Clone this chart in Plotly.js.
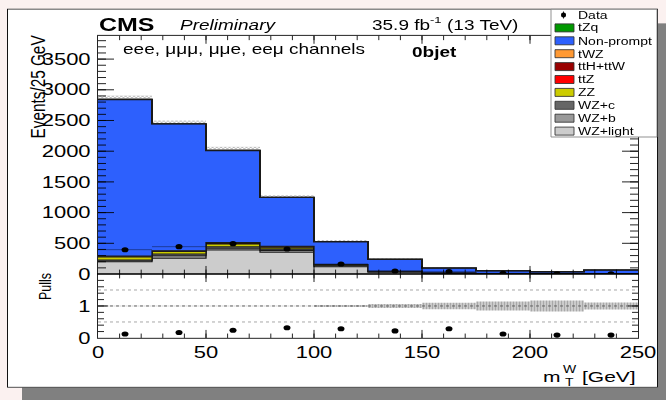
<!DOCTYPE html>
<html>
<head>
<meta charset="utf-8">
<script src="https://cdn.plot.ly/plotly-3.0.1.min.js"></script>
<style>
  html, body { margin: 0; padding: 0; width: 666px; height: 400px; overflow: hidden; background: #fbf1f0; }
  #wrap { position: absolute; left: 0; top: 0; width: 666px; height: 548px; transform: scaleY(0.729927); transform-origin: 0 0; }
  #shadow { position: absolute; left: 22px; top: 31.5px; width: 660px; height: 530px; background: #808080; }
  #frame { position: absolute; left: 7px; top: 12.3px; width: 649px; height: 516.5px; background: #ffffff; border: 1px solid #111; }
  #plot { position: absolute; left: 0; top: 0; width: 666px; height: 548px; }
</style>
</head>
<body>
<div id="wrap">
  <div id="shadow"></div>
  <div id="frame"></div>
  <div id="plot"></div>
</div>
<script>
// ---------------- data ----------------
const binEdges   = [0, 25, 50, 75, 100, 125, 150, 175, 200, 225, 250];
const binCenters = [12.5, 37.5, 62.5, 87.5, 112.5, 137.5, 162.5, 187.5, 212.5, 237.5];

const wzLight   = [200, 256, 390, 354, 119, 30, 12, 6, 4, 5];
const wzB       = [14, 40, 30, 30, 14, 5, 2, 1, 1, 1];
const wzC       = [14, 30, 25, 24, 10, 4, 2, 1, 1, 1];
const zz        = [50, 38, 44, 27, 6, 3, 2, 1, 1, 1];
const ttZ       = [8, 6, 12, 10, 4, 2, 1, 1, 0.5, 1];
const ttHttW    = [5, 5, 8, 6, 2, 1, 1, 0.5, 0.5, 0.5];
const tWZ       = [3, 3, 4, 3, 1, 0.5, 0, 0, 0, 0];
const nonPrompt = [2548, 2067, 1500, 794, 370, 194, 78, 44, 30, 56];
const tZq       = [4, 2, 4, 3, 1, 0.5, 0, 0, 0, 0];

const mcUnc     = [60, 55, 55, 30, 25, 12, 6, 4, 3, 4];
const dataObs   = [396, 445, 494, 408, 163, 49, 38, 11, 5, 5];

const pulls     = [0.125, 0.17, 0.24, 0.32, 0.29, 0.22, 0.29, 0.125, 0.09, 0.09];
const pullBand  = [0.01, 0.01, 0.01, 0.01, 0.03, 0.06, 0.10, 0.14, 0.17, 0.11];

const upperTicks = [0, 500, 1000, 1500, 2000, 2500, 3000, 3500];
const pullTicks  = [0, 1];
const xTicks     = [0, 50, 100, 150, 200, 250];

const bkgNames  = ['WZ+light', 'WZ+b', 'WZ+c', 'ZZ', 'ttZ', 'ttH+ttW', 'tWZ', 'Non-prompt', 'tZq'];
const bkgValues = [wzLight, wzB, wzC, zz, ttZ, ttHttW, tWZ, nonPrompt, tZq];
const bkgColors = ['#cccccc', '#999999', '#666666', '#cccc00', '#ff0000', '#990000', '#ff9933', '#2d60fd', '#009900'];
const legendOrder = ['Data', 'tZq', 'Non-prompt', 'tWZ', 'ttH+ttW', 'ttZ', 'ZZ', 'WZ+c', 'WZ+b', 'WZ+light'];

// ---------------- helpers ----------------
const S = 400 / 548;                 // vertical squash of the page
const step = a => a.concat([a[a.length - 1]]);
const ax = xr => (xr - 98) / 540;               // ref px -> paper x
const ay = yr => (463 - yr / S) / 414;          // ref px -> paper y
const FONT = 'Liberation Sans, Arial, Helvetica, sans-serif';

const total = binCenters.map((_, i) => bkgValues.reduce((s, arr) => s + arr[i], 0));
const uncLo = total.map((t, i) => t - mcUnc[i]);
const uncHi = total.map((t, i) => t + mcUnc[i]);

const traces = [];
// MC uncertainty band (drawn first, stack covers lower half)
traces.push({ x: binEdges, y: step(uncLo), type: 'scatter', mode: 'lines', line: { width: 0, shape: 'hv' },
  xaxis: 'x', yaxis: 'y', showlegend: false, hoverinfo: 'skip' });
traces.push({ x: binEdges, y: step(uncHi), type: 'scatter', mode: 'lines', line: { width: 0, shape: 'hv' },
  fill: 'tonexty', fillcolor: 'rgba(0,0,0,0)',
  fillpattern: { shape: 'x', fgcolor: '#8a8a8a', bgcolor: 'rgba(0,0,0,0)', size: 3, solidity: 0.35 },
  xaxis: 'x', yaxis: 'y', showlegend: false, hoverinfo: 'skip' });

bkgNames.forEach((name, k) => {
  traces.push({
    name: name, x: binEdges, y: step(bkgValues[k]), type: 'scatter', mode: 'lines',
    stackgroup: 'mc', line: { shape: 'hv', color: '#1a1a1a', width: name === 'Non-prompt' ? 2 : 1.3 },
    fillcolor: bkgColors[k], xaxis: 'x', yaxis: 'y', showlegend: false
  });
});

traces.push({ name: 'Data', x: binCenters, y: dataObs, type: 'scatter', mode: 'markers',
  marker: { color: '#000', size: 7 },
  error_x: { type: 'constant', value: 12.5, width: 0, thickness: 1, color: 'rgba(0,0,0,0.45)' },
  xaxis: 'x', yaxis: 'y', showlegend: false });

// pulls panel
traces.push({ x: binEdges, y: step(pullBand.map(u => 1 - u)), type: 'scatter', mode: 'lines',
  line: { width: 0, shape: 'hv' }, xaxis: 'x2', yaxis: 'y2', showlegend: false, hoverinfo: 'skip' });
traces.push({ x: binEdges, y: step(pullBand.map(u => 1 + u)), type: 'scatter', mode: 'lines',
  line: { width: 0, shape: 'hv' }, fill: 'tonexty', fillcolor: '#c8c8c8',
  fillpattern: { shape: '|', fgcolor: '#a8a8a8', bgcolor: '#cfcfcf', size: 3, solidity: 0.4 },
  xaxis: 'x2', yaxis: 'y2', showlegend: false, hoverinfo: 'skip' });
traces.push({ name: 'Pulls', x: binCenters, y: pulls, type: 'scatter', mode: 'markers',
  marker: { color: '#000', size: 7 }, xaxis: 'x2', yaxis: 'y2', showlegend: false });

// ---------------- shapes (reference lines, legend boxes) ----------------
const shapes = [];
[[0.5, '#9a9a9a'], [1, '#555555'], [1.5, '#9a9a9a']].forEach(([v, c]) => {
  shapes.push({ type: 'line', xref: 'x2', yref: 'y2', x0: 0, x1: 250, y0: v, y1: v,
    line: { color: c, width: 1, dash: 'dot' } });
});

// legend frame
shapes.push({ type: 'rect', xref: 'paper', yref: 'paper', x0: ax(551), x1: ax(657), y0: ay(137), y1: ay(9.3),
  fillcolor: '#ffffff', line: { color: '#808080', width: 1 } });
const annotations = [];
const txt = (x, y, text, size, xanchor, extra) => annotations.push(Object.assign({
  xref: 'paper', yref: 'paper', x: ax(x), y: ay(y), xanchor: xanchor || 'left', yanchor: 'middle',
  text: text, showarrow: false, font: { family: FONT, size: size, color: '#000' } }, extra || {}));

legendOrder.forEach((name, i) => {
  const c = 15 + 12.9 * i;
  if (name === 'Data') {
    shapes.push({ type: 'line', xref: 'paper', yref: 'paper', x0: ax(563.5), x1: ax(563.5), y0: ay(c + 3.5), y1: ay(c - 3.5),
      line: { color: '#000', width: 1 } });
    shapes.push({ type: 'circle', xref: 'paper', yref: 'paper', x0: ax(561), x1: ax(566), y0: ay(c + 2.5), y1: ay(c - 2.5),
      fillcolor: '#000', line: { color: '#000', width: 0 } });
  } else {
    const k = bkgNames.indexOf(name);
    shapes.push({ type: 'rect', xref: 'paper', yref: 'paper', x0: ax(555), x1: ax(574), y0: ay(c + 4), y1: ay(c - 4),
      fillcolor: bkgColors[k], line: { color: '#333333', width: 1 } });
  }
  txt(576, c, name, 14);
});

// header texts
txt(432, 25, '35.9 fb', 19, 'right');
txt(428, 19.5, '-1', 13);
txt(445, 25, '(13 TeV)', 19);
txt(96.5, 24, '<b>CMS</b>', 25);
txt(177.5, 25.3, '<i>Preliminary</i>', 19);
txt(120.5, 49.5, 'eee, μμμ, μμe, eeμ channels', 19);
txt(410, 52.5, '<b>0bjet</b>', 19);
// axis titles
txt(37.5, 87, 'Events/25 GeV', 21, 'center', { textangle: -90 });
txt(45.5, 286.5, 'Pulls', 17, 'center', { textangle: -90 });
txt(562.5, 376, 'm', 21, 'right');
txt(560.5, 369.5, 'W', 14);
txt(563, 382.5, 'T', 14);
txt(638, 376, '[GeV]', 21, 'right');

// ---------------- layout ----------------
const split = (463 - 274 / S) / 414;
const tickFont = { family: FONT, size: 22, color: '#000' };
const baseX = {
  range: [0, 250], tickvals: xTicks, ticks: 'inside', tickcolor: '#000', tickwidth: 1,
  showline: true, linecolor: '#000', linewidth: 1, mirror: 'ticks', zeroline: false, showgrid: false,
  minor: { tickmode: 'linear', tick0: 0, dtick: 10, ticks: 'inside', ticklen: 6, tickcolor: '#000', showgrid: false }
};
const layout = {
  width: 666, height: 548,
  margin: { l: 98, r: 28, t: 49, b: 85, pad: 0 },
  paper_bgcolor: 'rgba(0,0,0,0)', plot_bgcolor: '#ffffff',
  showlegend: false,
  font: { family: FONT, color: '#000' },
  xaxis: Object.assign({}, baseX, { anchor: 'y', showticklabels: false, ticklen: 11 }),
  xaxis2: Object.assign({}, baseX, { anchor: 'y2', matches: 'x', showticklabels: true, ticklen: 11, tickfont: tickFont }),
  yaxis: {
    domain: [split, 1], range: [0, 3880], tickvals: upperTicks, ticks: 'inside', ticklen: 16, tickcolor: '#000',
    showline: true, linecolor: '#000', linewidth: 1, mirror: 'ticks', zeroline: false, showgrid: false,
    tickfont: tickFont, ticklabelstandoff: 2,
    minor: { tickmode: 'linear', tick0: 0, dtick: 100, ticks: 'inside', ticklen: 8, tickcolor: '#000', showgrid: false }
  },
  yaxis2: {
    domain: [0, split], range: [0, 2], tickvals: pullTicks, ticks: 'inside', ticklen: 10, tickcolor: '#000',
    showline: true, linecolor: '#000', linewidth: 1, mirror: 'ticks', zeroline: false, showgrid: false,
    tickfont: tickFont, ticklabelstandoff: 2,
    minor: { tickmode: 'linear', tick0: 0, dtick: 0.2, ticks: 'inside', ticklen: 6, tickcolor: '#000', showgrid: false }
  },
  shapes: shapes,
  annotations: annotations
};

Plotly.newPlot('plot', traces, layout, { displayModeBar: false, staticPlot: true });
</script>
</body>
</html>
